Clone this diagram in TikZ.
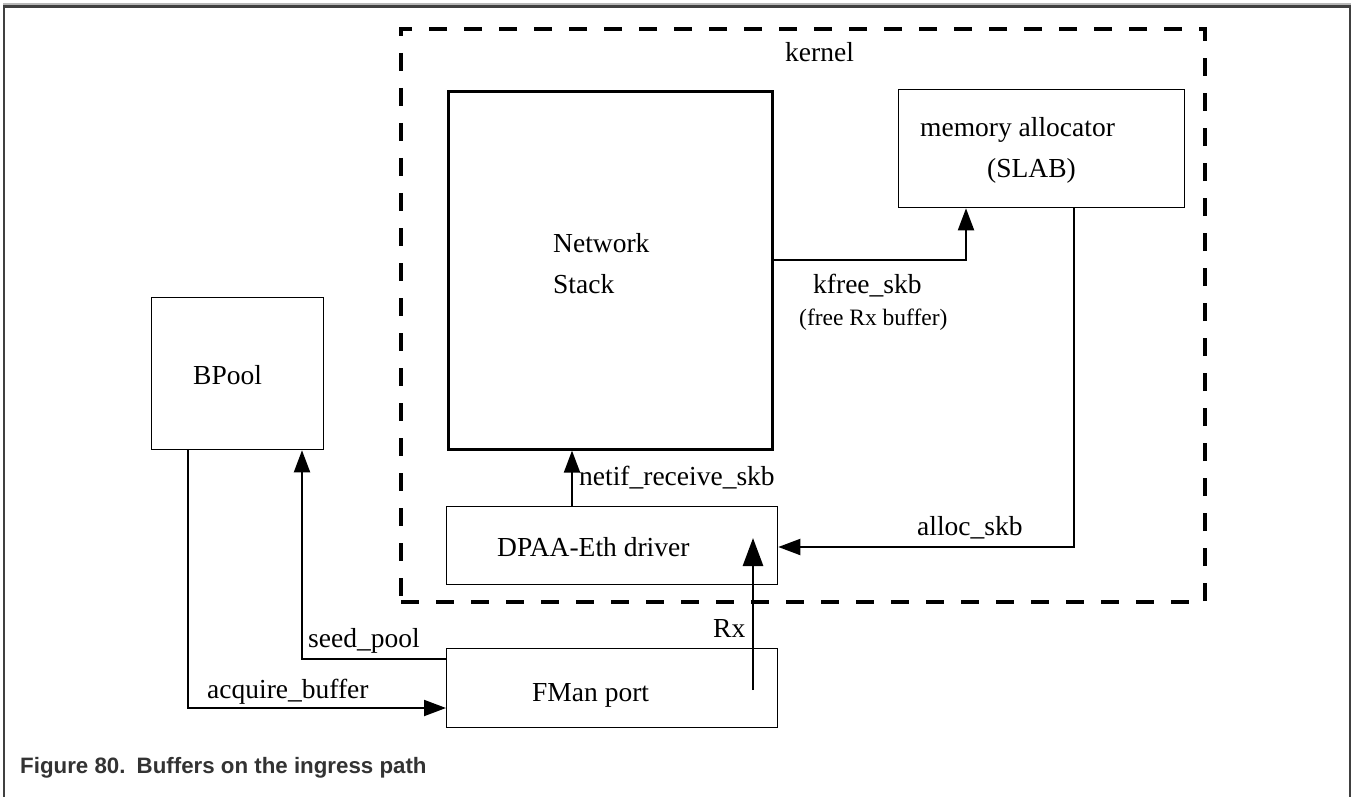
\documentclass[tikz,border=0pt]{standalone}
\usepackage{fontspec}
\setmainfont{Liberation Serif}
\newfontfamily\capfont{Liberation Sans}
\usetikzlibrary{arrows.meta}
\definecolor{framec}{HTML}{404040}
\definecolor{framelt}{HTML}{B8B8B8}
\definecolor{capc}{HTML}{333333}
\begin{document}
\begin{tikzpicture}[x=1pt,y=-1pt,
  box/.style={draw, line width=1.3pt, inner sep=0pt, anchor=north west},
  thickbox/.style={box, line width=2.6pt},
  kbox/.style={box, line width=4pt, dash pattern=on 18pt off 17pt},
  lbl/.style={anchor=base west, inner sep=0pt, font=\fontsize{27.5}{30}\selectfont},
  slbl/.style={anchor=base west, inner sep=0pt, font=\fontsize{23.5}{26}\selectfont},
  conn/.style={line width=2pt, -{Triangle[length=22pt,width=16pt]}},
  rxconn/.style={line width=2.8pt, -{Triangle[length=28pt,width=20pt]}}]
\useasboundingbox (0,0) rectangle (1352,797);
% outer frame
\draw[framelt, line width=1.5pt] (3,4) -- (1351,4);
\draw[framec, line width=2.5pt] (4,797) -- (4,6.5) -- (1350,6.5) -- (1350,797);
% boxes
\node[kbox, minimum width=804pt, minimum height=573pt] (kern) at (399,27) {};
\node[thickbox, minimum width=324pt, minimum height=358pt] (ns) at (447,90) {};
\node[box, minimum width=286pt, minimum height=118pt] (mem) at (898,89) {};
\node[box, minimum width=331pt, minimum height=78pt] (dpaa) at (446,506) {};
\node[box, minimum width=331pt, minimum height=79pt] (fman) at (446,648) {};
\node[box, minimum width=172pt, minimum height=152pt] (bp) at (151,297) {};
% labels
\node[lbl] (tkern) at (785,62) {kernel};
\node[lbl] (tnet) at (553,252) {Network};
\node[lbl] (tstack) at (553,293) {Stack};
\node[lbl] (tmem) at (920,137) {memory allocator};
\node[lbl] (tslab) at (987,177) {(SLAB)};
\node[lbl] (tkfree) at (813,293) {kfree\_skb};
\node[slbl] (tfree) at (799,325) {(free Rx buffer)};
\node[lbl] (tnetif) at (579,485) {netif\_receive\_skb};
\node[lbl] (tdpaa) at (497,556) {DPAA-Eth driver};
\node[lbl] (talloc) at (917,535) {alloc\_skb};
\node[lbl] (trx) at (713,637) {Rx};
\node[lbl] (tfman) at (532,701) {FMan port};
\node[lbl] (tseed) at (308,647) {seed\_pool};
\node[lbl] (tacq) at (207,698) {acquire\_buffer};
\node[lbl] (tbp) at (193,384) {BPool};
\node[anchor=base west, inner sep=0pt, text=capc, font=\capfont\bfseries\fontsize{22.3}{25}\selectfont] (cap) at (20,773) {Figure 80.\hspace{0.5em}Buffers on the ingress path};
% connectors
\coordinate (kf) at (966,260);
\draw[conn] (kf -| ns.east) -- (kf) -- (kf |- mem.south);
\coordinate (al) at (1074,547);
\draw[conn] (al |- mem.south) -- (al) -- (al -| dpaa.east);
\coordinate (nr) at (572,506);
\draw[conn] (nr |- dpaa.north) -- (nr |- ns.south);
\coordinate (rxs) at (753,690);
\coordinate (rxe) at (753,538);
\draw[rxconn] (rxs) -- (rxe);
\coordinate (sp) at (302,659);
\draw[conn] (sp -| fman.west) -- (sp) -- (sp |- bp.south);
\coordinate (ab) at (188,708);
\draw[conn] (ab |- bp.south) -- (ab) -- (ab -| fman.west);
\end{tikzpicture}
\end{document}
